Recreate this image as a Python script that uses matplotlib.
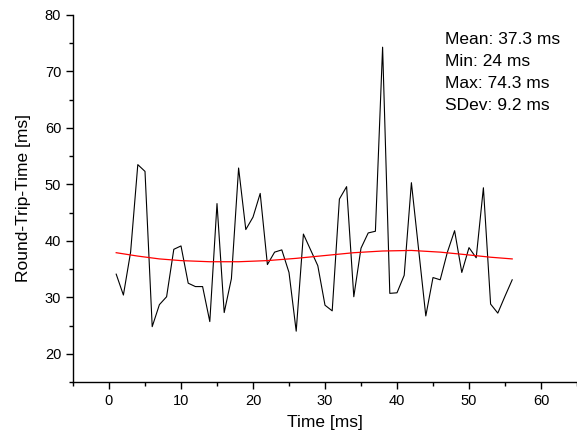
import numpy as np
import matplotlib
matplotlib.use("Agg")
import matplotlib.pyplot as plt
from matplotlib.ticker import MultipleLocator

plt.rcParams['font.family'] = ['Liberation Sans', 'DejaVu Sans']

time_ms = list(range(1, 57))
rtt_ms = [34.1, 30.4, 38.0, 53.5, 52.3, 24.8, 28.7, 30.1, 38.5, 39.1,
          32.5, 31.9, 31.9, 25.7, 46.6, 27.3, 33.3, 52.9, 42.0, 44.2,
          48.4, 35.8, 38.0, 38.4, 34.4, 24.0, 41.2, 38.4, 35.6, 28.6,
          27.6, 47.4, 49.6, 30.1, 38.7, 41.4, 41.7, 74.3, 30.7, 30.8,
          33.9, 50.3, 38.5, 26.7, 33.5, 33.1, 38.0, 41.8, 34.4, 38.8,
          37.0, 49.4, 28.8, 27.2, 30.2, 33.1]
# red trend curve
trend_x = [1, 4, 7, 10, 14, 18, 22, 26, 30, 34, 38, 42, 46, 50, 53, 56]
trend_y = [37.9, 37.3, 36.8, 36.5, 36.3, 36.3, 36.5, 36.9, 37.4, 37.9,
           38.2, 38.3, 38.0, 37.5, 37.1, 36.8]
stats_lines = ["Mean: 37.3 ms", "Min: 24 ms", "Max: 74.3 ms", "SDev: 9.2 ms"]

fig = plt.figure(figsize=(5.77, 4.37), dpi=100)
ax = fig.add_axes([73/577, 55/437, 504/577, 367/437])
ax.plot(time_ms, rtt_ms, color='black', lw=0.8)
ax.plot(trend_x, trend_y, color='red', lw=0.9)

ax.set_xlim(-5, 65)
ax.set_ylim(15, 80)
ax.xaxis.set_minor_locator(MultipleLocator(5))
ax.yaxis.set_minor_locator(MultipleLocator(5))
ax.set_xticks([0, 10, 20, 30, 40, 50, 60])
ax.set_yticks([20, 30, 40, 50, 60, 70, 80])
for s in ['top', 'right']:
    ax.spines[s].set_visible(False)
for s in ['left', 'bottom']:
    ax.spines[s].set_linewidth(1.0)
ax.tick_params(which='major', direction='out', length=5, width=1.0, labelsize=10.5)
ax.tick_params(which='minor', direction='out', length=3, width=1.0)
ax.set_xlabel("Time [ms]", fontsize=12.5, labelpad=5)
ax.set_ylabel("Round-Trip-Time [ms]", fontsize=12.5, labelpad=10)

for i, t in enumerate(stats_lines):
    fig.text(445/577, 1 - (40 + 22*i)/437, t, fontsize=12.5, va='center', ha='left')

fig.savefig("out.png", dpi=100)
